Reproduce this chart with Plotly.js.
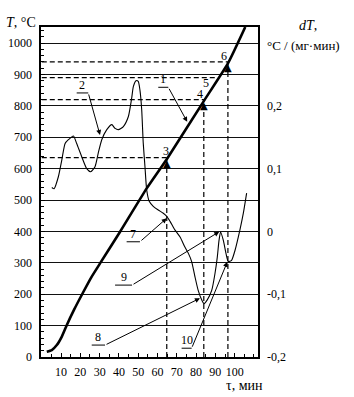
<!DOCTYPE html>
<html>
<head>
<meta charset="utf-8">
<script src="https://cdn.plot.ly/plotly-3.0.1.min.js"></script>
<style>html,body{margin:0;padding:0;background:#fff;}#chart{width:354px;height:397px;}</style>
</head>
<body>
<div id="chart"></div>
<script>
// Curve 1: temperature T, °C vs time τ, min
const tau1 = [2.6, 5.2, 7.8, 10.4, 13, 16.7, 21.2, 25.9, 30.2, 40.6, 54.4, 64.8, 84, 96.5, 105.5];
const temp1 = [17, 22, 38, 65, 102, 150, 203, 256, 298, 399, 537, 630, 815, 935, 1051];

// Curve 2/7: dT, °C/(мг·мин) vs τ, min
const tau2 = [5.2, 6.4, 8.6, 10.4, 12.1, 13.8, 16.4, 18.1, 20.7, 23.3, 25.4, 27.6, 29.3, 31.1, 33.7, 36.3, 38, 39.7, 42.3, 44.9, 46.6, 47.5, 48.9, 50, 50.9, 51.8, 52.6, 53.5, 54.4, 55.7, 57.8, 60.4, 63, 64.8, 66.5, 69.1, 71.7, 74.2, 76, 77.7, 79.4, 81.1, 82.9, 84.1, 85.8, 88.1, 89.8, 91, 91.9, 92.7, 94.1, 95.5, 96.7, 98.4, 100.2, 102.7, 104.5, 106.2];
const dT2 = [0.070, 0.068, 0.087, 0.114, 0.140, 0.146, 0.152, 0.140, 0.119, 0.100, 0.095, 0.103, 0.125, 0.146, 0.162, 0.170, 0.164, 0.162, 0.167, 0.183, 0.212, 0.231, 0.240, 0.239, 0.225, 0.194, 0.141, 0.103, 0.066, 0.048, 0.040, 0.034, 0.029, 0.024, 0.016, 0.002, -0.009, -0.025, -0.035, -0.048, -0.072, -0.094, -0.109, -0.115, -0.109, -0.094, -0.067, -0.041, -0.014, -0.001, -0.014, -0.035, -0.048, -0.046, -0.030, 0.002, 0.029, 0.061];

// Marked points 3,4,5,6 on curve 1
const ptLabels = ['3', '4', '5', '6'];
const ptTau = [64.8, 84, 90, 96.5];
const ptT = [635, 820, 890, 940];
const ptTriangle = [true, true, false, true];

// Axis ticks
const xTicks = [10, 20, 30, 40, 50, 60, 70, 80, 90, 100];
const yTicks = [0, 100, 200, 300, 400, 500, 600, 700, 800, 900, 1000];
const y2Ticks = [-0.2, -0.1, 0, 0.1, 0.2];
const y2TickText = ['-0,2', '-0,1', '0', '0,1', '0,2'];

const FONT = 'Liberation Serif, Times New Roman, serif';

// dashed guide lines built from the points
const hx = [], hy = [], vx = [], vy = [];
ptTau.forEach((t, i) => {
  hx.push(0, t, null); hy.push(ptT[i], ptT[i], null);
  if (ptTriangle[i]) { vx.push(t, t, null); vy.push(0, ptT[i], null); }
});

const traces = [
  {x: hx, y: hy, mode: 'lines', line: {color: '#000', width: 1.2, dash: '5px,3px'}, hoverinfo: 'skip'},
  {x: vx, y: vy, mode: 'lines', line: {color: '#000', width: 1.2, dash: '5px,3px'}, hoverinfo: 'skip'},
  {x: tau1, y: temp1, mode: 'lines', line: {color: '#000', width: 2.6, shape: 'spline', smoothing: 0.5}, hoverinfo: 'skip'},
  {x: tau2, y: dT2, yaxis: 'y2', mode: 'lines', line: {color: '#000', width: 1.1, shape: 'spline', smoothing: 0.6}, hoverinfo: 'skip'}
];

const annotations = [];
const shapes = [];
// triangles and labels for points
ptTau.forEach((t, i) => {
  if (ptTriangle[i]) {
    annotations.push({x: t, y: ptT[i], xref: 'x', yref: 'y', text: '▲', showarrow: false,
      yanchor: 'top', xanchor: 'center', yshift: 2, font: {family: 'DejaVu Sans', size: 10, color: '#000'}});
  }
});
const ptLabelPos = [[64.4, 656], [82, 838], [85.1, 873], [94.5, 959]];
ptLabelPos.forEach((p, i) => {
  annotations.push({x: p[0], y: p[1], xref: 'x', yref: 'y', text: ptLabels[i], showarrow: false,
    font: {family: FONT, size: 12, color: '#000'}});
});

// callouts: [label, underline tau0, tau1, T, tip tau, tip T]
const callouts = [
  ['2', 18.1, 24.1, 841, 30.2, 707],
  ['1', 60.4, 65.6, 859, 75.4, 749],
  ['7', 44.0, 50.9, 367, 64.8, 442],
  ['9', 38.0, 46.8, 229, 92.0, 399],
  ['8', 25.9, 32.8, 38, 82.0, 187],
  ['10', 72.5, 77.7, 28, 96.2, 303]
];
callouts.forEach(c => {
  shapes.push({type: 'line', xref: 'x', yref: 'y', x0: c[1], x1: c[2], y0: c[3], y1: c[3], line: {color: '#000', width: 1}});
  annotations.push({x: (c[1] + c[2]) / 2, y: c[3], xref: 'x', yref: 'y', text: c[0], showarrow: false,
    yanchor: 'bottom', yshift: -1, font: {family: FONT, size: 12, color: '#000'}});
  annotations.push({x: c[4], y: c[5], xref: 'x', yref: 'y', ax: c[2], ay: c[3], axref: 'x', ayref: 'y',
    text: '', showarrow: true, arrowhead: 2, arrowsize: 1, arrowwidth: 1, arrowcolor: '#000', standoff: 0, startstandoff: 0});
});

// axis titles
annotations.push({xref: 'paper', yref: 'paper', x: -0.012, y: 1.015, xanchor: 'right', yanchor: 'middle',
  text: '<i>T</i>, °C', showarrow: false, font: {family: FONT, size: 14, color: '#000'}});
annotations.push({xref: 'paper', yref: 'paper', x: 1.178, y: 1.005, xanchor: 'left', yanchor: 'middle',
  text: '<i>dT</i>,', showarrow: false, font: {family: FONT, size: 14, color: '#000'}});
annotations.push({xref: 'paper', yref: 'paper', x: 1.032, y: 0.945, xanchor: 'left', yanchor: 'middle',
  text: '°C / (мг·мин)', showarrow: false, font: {family: FONT, size: 13, color: '#000'}});
annotations.push({xref: 'paper', yref: 'paper', x: 0.94, y: -0.085, xanchor: 'center', yanchor: 'middle',
  text: 'τ, мин', showarrow: false, font: {family: FONT, size: 14, color: '#000'}});

const layout = {
  width: 354, height: 397,
  margin: {l: 41, r: 96, t: 27, b: 40, pad: 0},
  paper_bgcolor: '#fff', plot_bgcolor: '#fff',
  showlegend: false,
  font: {family: FONT, size: 12, color: '#000'},
  xaxis: {
    range: [-0.4, 112.1], tickvals: xTicks, ticks: 'inside', ticklen: 4, tickwidth: 1, tickcolor: '#000',
    minor: {dtick: 5, tick0: 0, ticks: 'inside', ticklen: 3, tickcolor: '#000'},
    showline: true, linecolor: '#000', linewidth: 1.6, mirror: true,
    showgrid: false, zeroline: false, ticklabelstandoff: 3,
    tickfont: {family: FONT, size: 12, color: '#000'}
  },
  yaxis: {
    range: [0, 1051], tickvals: yTicks, ticks: 'inside', ticklen: 4, tickwidth: 1, tickcolor: '#000',
    minor: {dtick: 20, tick0: 0, ticks: 'inside', ticklen: 3, tickcolor: '#000'},
    showline: true, linecolor: '#000', linewidth: 1.6, mirror: true,
    showgrid: true, gridcolor: '#111', gridwidth: 1, zeroline: false, ticklabelstandoff: 5,
    tickfont: {family: FONT, size: 12, color: '#000'}
  },
  yaxis2: {
    overlaying: 'y', side: 'right', range: [-0.2, 0.3255],
    tickvals: y2Ticks, ticktext: y2TickText, ticks: '', showline: false,
    showgrid: false, zeroline: false, ticklabelstandoff: 8,
    tickfont: {family: FONT, size: 12, color: '#000'}
  },
  shapes: shapes,
  annotations: annotations
};

Plotly.newPlot('chart', traces, layout, {displayModeBar: false, staticPlot: true});
</script>
</body>
</html>
